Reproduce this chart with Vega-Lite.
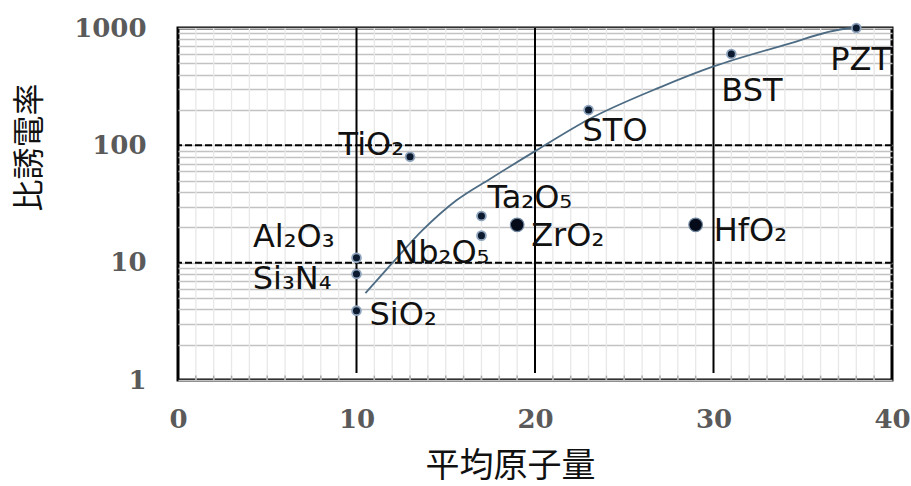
{
  "$schema": "https://vega.github.io/schema/vega-lite/v6.json",
  "width": 714,
  "height": 352,
  "autosize": "none",
  "padding": {"left": 178, "top": 28, "right": 19, "bottom": 106},
  "background": "white",
  "config": {
    "view": {"stroke": "black", "strokeWidth": 3},
    "axis": {
      "labelFont": "DejaVu Serif",
      "labelFontWeight": "bold",
      "labelFontSize": 26,
      "labelColor": "#5a5a5a",
      "titleFont": "Noto Sans CJK JP",
      "titleFontWeight": "normal",
      "titleColor": "#111111",
      "domain": false
    },
    "text": {"font": "DejaVu Sans", "fontSize": 32, "color": "#111111", "baseline": "middle"}
  },
  "datasets": {
    "materials": [
      {"name": "TiO2", "label": "TiO₂", "x": 13, "y": 80},
      {"name": "Al2O3", "label": "Al₂O₃", "x": 10, "y": 11},
      {"name": "Si3N4", "label": "Si₃N₄", "x": 10, "y": 8},
      {"name": "SiO2", "label": "SiO₂", "x": 10, "y": 3.9},
      {"name": "Nb2O5", "label": "Nb₂O₅", "x": 17, "y": 17},
      {"name": "Ta2O5", "label": "Ta₂O₅", "x": 17, "y": 25},
      {"name": "ZrO2", "label": "ZrO₂", "x": 19, "y": 21},
      {"name": "HfO2", "label": "HfO₂", "x": 29, "y": 21},
      {"name": "STO", "label": "STO", "x": 23, "y": 200},
      {"name": "BST", "label": "BST", "x": 31, "y": 600},
      {"name": "PZT", "label": "PZT", "x": 38, "y": 1000}
    ],
    "trend": [
      {"x": 10.5, "y": 5.5},
      {"x": 12.0, "y": 9.9},
      {"x": 13.7, "y": 18.9},
      {"x": 15.6, "y": 34},
      {"x": 17.5, "y": 52},
      {"x": 20.1, "y": 91},
      {"x": 23.0, "y": 166},
      {"x": 27.0, "y": 312},
      {"x": 30.0, "y": 470},
      {"x": 33.9, "y": 710},
      {"x": 37.5, "y": 990},
      {"x": 38.0, "y": 1000}
    ],
    "xminor": [
      {"x": 1}, {"x": 2}, {"x": 3}, {"x": 4}, {"x": 5}, {"x": 6}, {"x": 7}, {"x": 8}, {"x": 9},
      {"x": 11}, {"x": 12}, {"x": 13}, {"x": 14}, {"x": 15}, {"x": 16}, {"x": 17}, {"x": 18}, {"x": 19},
      {"x": 21}, {"x": 22}, {"x": 23}, {"x": 24}, {"x": 25}, {"x": 26}, {"x": 27}, {"x": 28}, {"x": 29},
      {"x": 31}, {"x": 32}, {"x": 33}, {"x": 34}, {"x": 35}, {"x": 36}, {"x": 37}, {"x": 38}, {"x": 39}
    ],
    "xmajor": [{"x": 10}, {"x": 20}, {"x": 30}],
    "ymajor": [{"y": 10}, {"y": 100}]
  },
  "layer": [
    {
      "data": {"name": "xminor"},
      "mark": {"type": "rule", "color": "#e8e8e8", "strokeWidth": 1.3},
      "encoding": {
        "x": {
          "field": "x", "type": "quantitative",
          "scale": {"domain": [0, 40], "nice": false, "zero": false},
          "axis": {
            "title": "平均原子量",
            "titleFontSize": 34,
            "titleX": 332, "titleY": 86,
            "titleBaseline": "middle",
            "values": [0, 10, 20, 30, 40],
            "format": "d",
            "labelPadding": 26,
            "labelFlush": false,
            "grid": false,
            "ticks": false
          }
        }
      }
    },
    {
      "data": {"name": "xminor"},
      "mark": {"type": "rule", "color": "#a9a9a9", "strokeWidth": 1.5},
      "encoding": {
        "x": {"field": "x", "type": "quantitative"},
        "y": {"datum": 1},
        "y2": {"datum": 1.09}
      }
    },
    {
      "data": {"name": "materials"},
      "mark": {"type": "point", "opacity": 0},
      "encoding": {
        "x": {"field": "x", "type": "quantitative"},
        "y": {
          "field": "y", "type": "quantitative",
          "scale": {"type": "log", "domain": [1, 1000], "nice": false},
          "axis": {
            "title": "比誘電率",
            "titleFontSize": 32,
            "titleAngle": -90,
            "titleX": -149, "titleY": 119,
            "titleAlign": "center",
            "titleBaseline": "middle",
            "values": [1,2,3,4,5,6,7,8,9,10,20,30,40,50,60,70,80,90,100,200,300,400,500,600,700,800,900,1000],
            "labelExpr": "datum.value == 1 || datum.value == 10 || datum.value == 100 || datum.value == 1000 ? format(datum.value, 'd') : ''",
            "labelPadding": 32,
            "labelFlush": false,
            "ticks": false,
            "grid": true,
            "gridColor": "#c2c2c2",
            "gridWidth": 1.6
          }
        }
      }
    },
    {
      "data": {"name": "xmajor"},
      "mark": {"type": "rule", "color": "black", "strokeWidth": 2},
      "encoding": {
        "x": {"field": "x", "type": "quantitative"},
        "y": {"datum": 1.15},
        "y2": {"datum": 1000}
      }
    },
    {
      "data": {"name": "ymajor"},
      "mark": {"type": "rule", "color": "black", "strokeWidth": 2, "strokeDash": [7, 3]},
      "encoding": {"y": {"field": "y", "type": "quantitative"}}
    },
    {
      "data": {"name": "trend"},
      "mark": {"type": "line", "interpolate": "monotone", "color": "#4d6c84", "strokeWidth": 1.8},
      "encoding": {
        "x": {"field": "x", "type": "quantitative"},
        "y": {"field": "y", "type": "quantitative"}
      }
    },
    {
      "data": {"name": "materials"},
      "transform": [{"filter": "datum.name != 'ZrO2' && datum.name != 'HfO2'"}],
      "mark": {"type": "point", "shape": "circle", "filled": true, "size": 78, "color": "#0c1a30", "stroke": "#8ea4bc", "strokeWidth": 1.8, "opacity": 1},
      "encoding": {
        "x": {"field": "x", "type": "quantitative"},
        "y": {"field": "y", "type": "quantitative"}
      }
    },
    {
      "data": {"name": "materials"},
      "transform": [{"filter": "datum.name == 'ZrO2' || datum.name == 'HfO2'"}],
      "mark": {"type": "point", "shape": "circle", "filled": true, "size": 185, "color": "#050b18", "stroke": "#6f86a0", "strokeWidth": 1.2, "opacity": 1},
      "encoding": {
        "x": {"field": "x", "type": "quantitative"},
        "y": {"field": "y", "type": "quantitative"}
      }
    },
    {
      "data": {"name": "materials"},
      "transform": [{"filter": "datum.name == 'TiO2'"}],
      "mark": {"type": "text", "align": "right", "dx": -6, "dy": -12},
      "encoding": {"x": {"field": "x", "type": "quantitative"}, "y": {"field": "y", "type": "quantitative"}, "text": {"field": "label"}}
    },
    {
      "data": {"name": "materials"},
      "transform": [{"filter": "datum.name == 'Al2O3'"}],
      "mark": {"type": "text", "align": "right", "dx": -22, "dy": -21},
      "encoding": {"x": {"field": "x", "type": "quantitative"}, "y": {"field": "y", "type": "quantitative"}, "text": {"field": "label"}}
    },
    {
      "data": {"name": "materials"},
      "transform": [{"filter": "datum.name == 'Si3N4'"}],
      "mark": {"type": "text", "align": "right", "dx": -25, "dy": 5},
      "encoding": {"x": {"field": "x", "type": "quantitative"}, "y": {"field": "y", "type": "quantitative"}, "text": {"field": "label"}}
    },
    {
      "data": {"name": "materials"},
      "transform": [{"filter": "datum.name == 'SiO2'"}],
      "mark": {"type": "text", "align": "left", "dx": 13, "dy": 4},
      "encoding": {"x": {"field": "x", "type": "quantitative"}, "y": {"field": "y", "type": "quantitative"}, "text": {"field": "label"}}
    },
    {
      "data": {"name": "materials"},
      "transform": [{"filter": "datum.name == 'Nb2O5'"}],
      "mark": {"type": "text", "align": "right", "dx": 8, "dy": 17},
      "encoding": {"x": {"field": "x", "type": "quantitative"}, "y": {"field": "y", "type": "quantitative"}, "text": {"field": "label"}}
    },
    {
      "data": {"name": "materials"},
      "transform": [{"filter": "datum.name == 'Ta2O5'"}],
      "mark": {"type": "text", "align": "left", "dx": 6, "dy": -18},
      "encoding": {"x": {"field": "x", "type": "quantitative"}, "y": {"field": "y", "type": "quantitative"}, "text": {"field": "label"}}
    },
    {
      "data": {"name": "materials"},
      "transform": [{"filter": "datum.name == 'ZrO2'"}],
      "mark": {"type": "text", "align": "left", "dx": 14, "dy": 11},
      "encoding": {"x": {"field": "x", "type": "quantitative"}, "y": {"field": "y", "type": "quantitative"}, "text": {"field": "label"}}
    },
    {
      "data": {"name": "materials"},
      "transform": [{"filter": "datum.name == 'HfO2'"}],
      "mark": {"type": "text", "align": "left", "dx": 18, "dy": 6},
      "encoding": {"x": {"field": "x", "type": "quantitative"}, "y": {"field": "y", "type": "quantitative"}, "text": {"field": "label"}}
    },
    {
      "data": {"name": "materials"},
      "transform": [{"filter": "datum.name == 'STO'"}],
      "mark": {"type": "text", "align": "left", "dx": -6, "dy": 21},
      "encoding": {"x": {"field": "x", "type": "quantitative"}, "y": {"field": "y", "type": "quantitative"}, "text": {"field": "label"}}
    },
    {
      "data": {"name": "materials"},
      "transform": [{"filter": "datum.name == 'BST'"}],
      "mark": {"type": "text", "align": "left", "dx": -10, "dy": 37},
      "encoding": {"x": {"field": "x", "type": "quantitative"}, "y": {"field": "y", "type": "quantitative"}, "text": {"field": "label"}}
    },
    {
      "data": {"name": "materials"},
      "transform": [{"filter": "datum.name == 'PZT'"}],
      "mark": {"type": "text", "align": "left", "dx": -26, "dy": 32},
      "encoding": {"x": {"field": "x", "type": "quantitative"}, "y": {"field": "y", "type": "quantitative"}, "text": {"field": "label"}}
    }
  ]
}
